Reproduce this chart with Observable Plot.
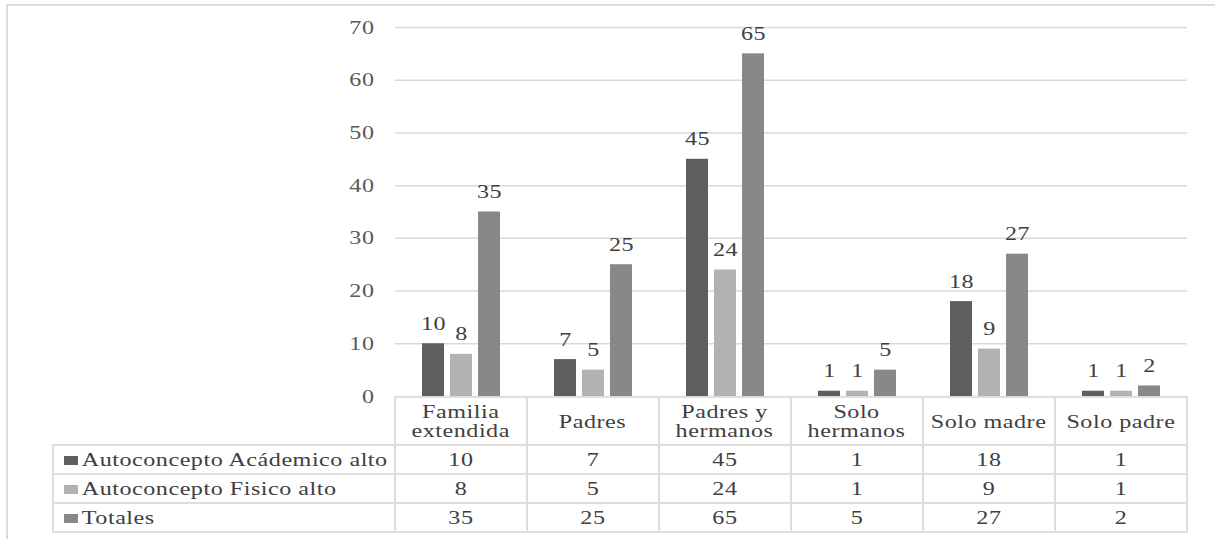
<!DOCTYPE html>
<html>
<head>
<meta charset="utf-8">
<script src="https://cdn.jsdelivr.net/npm/d3@7"></script>
<script src="https://cdn.jsdelivr.net/npm/@observablehq/plot@0.6"></script>
<style>
  html, body { margin: 0; padding: 0; background: #fff; width: 1215px; height: 539px; overflow: hidden; }
  #frame { position: absolute; left: 6px; top: 4px; width: 1300px; height: 700px;
           border-top: 2px solid #dcdcdc; border-left: 2px solid #dcdcdc; box-sizing: border-box; }
  #chart { position: absolute; left: 0; top: 0; }
  #tabla { position: absolute; left: 52px; top: 396px; border-collapse: collapse; table-layout: fixed;
           font-family: "Liberation Serif", "Times New Roman", serif; font-size: 19px;
           letter-spacing: 0.4px; color: #404040; }
  #tabla td { border: 2px solid #dedede; padding: 0; text-align: center; vertical-align: middle;
              white-space: nowrap; overflow: hidden; }
  #tabla tr.cabecera td { height: 46px; line-height: 19px; }
  #tabla tr.fila td { height: 27px; line-height: 19px; }
  #tabla td.vacia { border-top: none; border-left: none; }
  #tabla td.serie { text-align: left; padding-left: 10px; }
  /* texto ensanchado horizontalmente, como en la figura original */
  .ancho { display: inline-block; transform: scaleX(1.27); transform-origin: 50% 50%; }
  td.serie .ancho { transform-origin: 0 50%; }
  .muestra { display: inline-block; width: 11px; height: 9px; margin-right: 3px; vertical-align: 1px; }
</style>
</head>
<body>
<div id="frame"></div>
<div id="chart"></div>
<table id="tabla"></table>
<script>
// Tipos de familia (columnas) y su rótulo en dos líneas
const categorias = ["Familia extendida", "Padres", "Padres y hermanos", "Solo hermanos", "Solo madre", "Solo padre"];
const rotulosCategoria = [["Familia", "extendida"], ["Padres"], ["Padres y", "hermanos"], ["Solo", "hermanos"], ["Solo madre"], ["Solo padre"]];

// Series
const series = ["Autoconcepto Acádemico alto", "Autoconcepto Fisico alto", "Totales"];
const academico = [10, 7, 45, 1, 18, 1];
const fisico = [8, 5, 24, 1, 9, 1];
const totales = [35, 25, 65, 5, 27, 2];
const colores = ["#5e5e5e", "#b2b2b2", "#888888"];

// Marcas del eje vertical
const marcasY = [0, 10, 20, 30, 40, 50, 60, 70];

const valoresPorSerie = [academico, fisico, totales];
const filas = categorias.flatMap((c, i) =>
  series.map((s, j) => ({categoria: c, serie: s, valor: valoresPorSerie[j][i]}))
);

const fuente = "'Liberation Serif', 'Times New Roman', serif";
const ESTIRAMIENTO = 1.27;

const grafico = Plot.plot({
  width: 1215,
  height: 398,
  marginLeft: 394,
  marginRight: 27,
  marginTop: 27,
  marginBottom: 2,
  style: {fontFamily: fuente, fontSize: "19px", letterSpacing: "0.4px", background: "transparent", overflow: "visible"},
  fx: {domain: categorias, padding: 0, axis: null},
  x: {domain: series, paddingInner: 0.21, paddingOuter: 0.93, axis: null},
  y: {domain: [0, 70], ticks: marcasY, axis: null},
  color: {domain: series, range: colores},
  marks: [
    Plot.gridY(marcasY, {stroke: "#d9d9d9", strokeOpacity: 1, strokeWidth: 1.5}),
    Plot.barY(filas, {fx: "categoria", x: "serie", y: "valor", fill: "serie"}),
    Plot.text(filas, {fx: "categoria", x: "serie", y: "valor", text: "valor",
                      lineAnchor: "bottom", dy: -14, fill: "#404040", fontFamily: fuente}),
    Plot.axisY({ticks: marcasY, tickSize: 0, tickPadding: 21, label: null,
                fill: "#595959", fontSize: 19, fontFamily: fuente})
  ]
});

// Ensancha cada texto en horizontal alrededor de su punto de anclaje
grafico.querySelectorAll("text").forEach(t => {
  const x = parseFloat(t.getAttribute("x"));
  const previo = t.getAttribute("transform") || "";
  let extra = "";
  if (Number.isFinite(x) && x !== 0) {
    t.removeAttribute("x");
    extra = `translate(${x},0) `;
  }
  t.setAttribute("transform", `${previo} ${extra}scale(${ESTIRAMIENTO},1)`);
});
document.getElementById("chart").appendChild(grafico);

// Tabla de datos bajo el gráfico, alineada con las bandas de fx
const fx = grafico.scale("fx");
const anchoColumna = fx.bandwidth ?? ((1215 - 27 - 394) / categorias.length);
const tabla = document.getElementById("tabla");
const colgroup = document.createElement("colgroup");
colgroup.innerHTML = `<col style="width:${394 - 52}px">` +
  categorias.map(() => `<col style="width:${anchoColumna}px">`).join("");
tabla.appendChild(colgroup);
tabla.style.width = (394 - 52 + anchoColumna * categorias.length) + "px";

const cabecera = document.createElement("tr");
cabecera.className = "cabecera";
cabecera.innerHTML = `<td class="vacia"></td>` +
  rotulosCategoria.map(l => `<td><span class="ancho">${l.join("<br>")}</span></td>`).join("");
tabla.appendChild(cabecera);

series.forEach((s, j) => {
  const tr = document.createElement("tr");
  tr.className = "fila";
  tr.innerHTML = `<td class="serie"><span class="ancho"><span class="muestra" style="background:${colores[j]}"></span>${s}</span></td>` +
    valoresPorSerie[j].map(v => `<td><span class="ancho">${v}</span></td>`).join("");
  tabla.appendChild(tr);
});
</script>
</body>
</html>
